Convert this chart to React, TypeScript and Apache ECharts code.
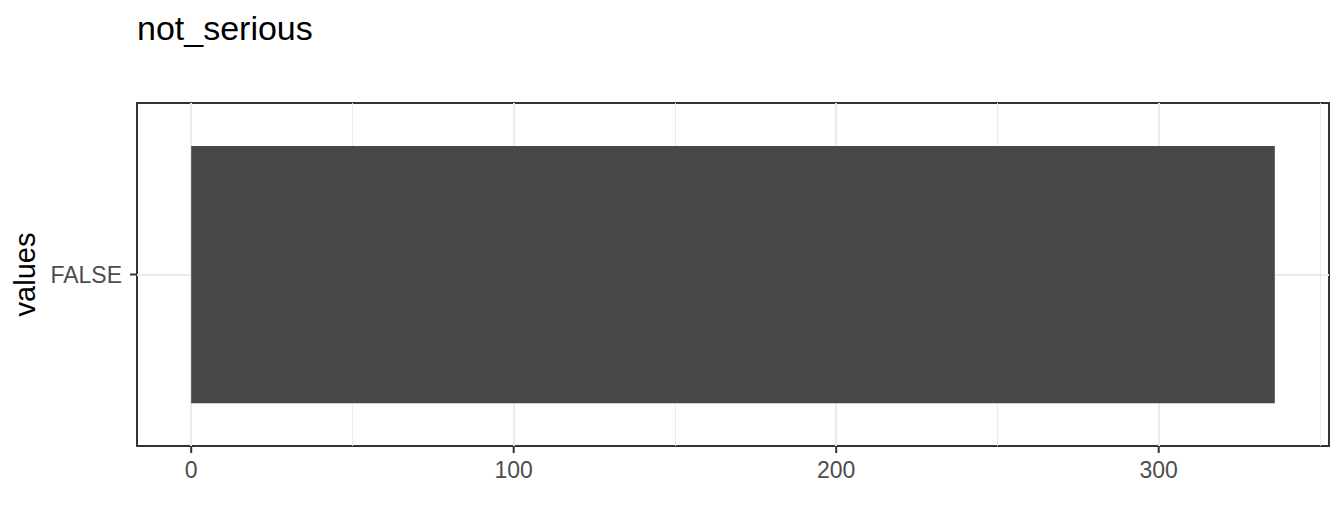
import React, { useEffect, useRef } from 'react';
import * as echarts from 'echarts';

// chart data
const categories = ['FALSE'];
const counts = [336];
const majorTicks = [0, 100, 200, 300];
const minorTicks = [50, 150, 250, 350];

const FONT = '"Liberation Sans", Arial, Helvetica, sans-serif';

const GRID = { left: 137, right: 15, top: 103, bottom: 85 };
const TICK_LEN = 7;

const App: React.FC = () => {
  const chartRef = useRef<HTMLDivElement>(null);

  useEffect(() => {
    if (!chartRef.current) return;
    const chart = echarts.init(chartRef.current, undefined, { renderer: 'svg' });

    // ggplot-style 5% expansion of the value axis
    const maxVal = Math.max(...counts);
    const pad = maxVal * 0.05;

    const options: echarts.EChartsOption = {
      animation: false,
      backgroundColor: '#ffffff',
      title: {
        text: 'not_serious',
        left: 137,
        top: 11,
        padding: 0,
        textStyle: {
          fontFamily: FONT,
          fontSize: 34,
          fontWeight: 'normal',
          color: '#000000'
        }
      },
      grid: {
        ...GRID,
        show: true,
        borderColor: '#333333',
        borderWidth: 2,
        backgroundColor: 'transparent'
      },
      xAxis: {
        type: 'value',
        min: -pad,
        max: maxVal + pad,
        axisLine: { show: false },
        axisTick: { show: false },
        axisLabel: {
          customValues: majorTicks,
          margin: 12,
          fontFamily: FONT,
          fontSize: 23,
          color: '#4d4d4d'
        },
        splitLine: { show: false }
      },
      yAxis: {
        type: 'category',
        data: categories,
        name: 'values',
        nameLocation: 'middle',
        nameGap: 96,
        nameTextStyle: {
          fontFamily: FONT,
          fontSize: 29,
          color: '#000000'
        },
        axisLine: { show: false },
        axisTick: { show: false },
        axisLabel: {
          margin: 15,
          fontFamily: FONT,
          fontSize: 23,
          color: '#4d4d4d'
        },
        splitLine: { show: false }
      },
      series: [
        {
          type: 'bar',
          data: counts,
          barWidth: '75%',
          itemStyle: { color: '#484848' },
          z: 2,
          markLine: {
            silent: true,
            z: 1,
            symbol: 'none',
            label: { show: false },
            data: [
              ...minorTicks.map(v => ({ xAxis: v, lineStyle: { color: '#ebebeb', width: 1, type: 'solid' as const } })),
              ...majorTicks.map(v => ({ xAxis: v, lineStyle: { color: '#ebebeb', width: 2, type: 'solid' as const } })),
              ...categories.map(c => ({ yAxis: c, lineStyle: { color: '#ebebeb', width: 2, type: 'solid' as const } }))
            ]
          }
        }
      ]
    };

    chart.setOption(options);

    // outward tick marks, placed through the axes' own scales
    const height = chart.getHeight();
    const bottomY = height - GRID.bottom;
    const tickStyle = { stroke: '#333333', lineWidth: 2 };
    const xTicks = majorTicks.map(v => {
      const px = chart.convertToPixel({ xAxisIndex: 0 }, v) as number;
      return {
        type: 'line' as const,
        silent: true,
        shape: { x1: px, y1: bottomY, x2: px, y2: bottomY + TICK_LEN },
        style: tickStyle
      };
    });
    const yTicks = categories.map(c => {
      const py = chart.convertToPixel({ yAxisIndex: 0 }, c) as number;
      return {
        type: 'line' as const,
        silent: true,
        shape: { x1: GRID.left - TICK_LEN, y1: py, x2: GRID.left, y2: py },
        style: tickStyle
      };
    });
    chart.setOption({ graphic: [...xTicks, ...yTicks] });

    return () => {
      chart.dispose();
    };
  }, []);

  return (
    <div
      ref={chartRef}
      style={{ position: 'fixed', left: 0, top: 0, width: 1344, height: 531 }}
    />
  );
};

export default App;
